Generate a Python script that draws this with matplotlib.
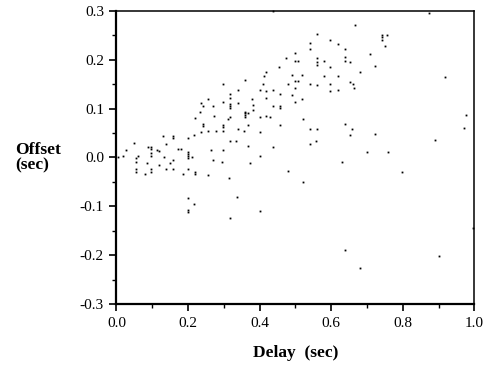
import matplotlib
matplotlib.use("Agg")
import matplotlib.pyplot as plt
from matplotlib.ticker import MultipleLocator, FormatStrFormatter

# delay (sec) vs offset (sec)
delay = [
    0.005, 0.018, 0.027, 0.048, 0.055, 0.055, 0.055, 0.055, 0.060, 0.080,
    0.084, 0.088, 0.096, 0.096, 0.096, 0.096, 0.096, 0.096, 0.113, 0.118,
    0.118, 0.129, 0.134, 0.138, 0.138, 0.149, 0.158, 0.158, 0.158, 0.158,
    0.171, 0.179, 0.187, 0.200, 0.200, 0.200, 0.200, 0.200, 0.200, 0.199,
    0.199, 0.199, 0.212, 0.216, 0.216, 0.219, 0.219, 0.219, 0.232, 0.236,
    0.236, 0.241, 0.241, 0.241, 0.257, 0.257, 0.257, 0.265, 0.270, 0.270,
    0.273, 0.278, 0.294, 0.297, 0.297, 0.297, 0.297, 0.297, 0.297, 0.311,
    0.313, 0.318, 0.318, 0.318, 0.318, 0.318, 0.318, 0.318, 0.318, 0.335,
    0.337, 0.339, 0.339, 0.339, 0.355, 0.359, 0.359, 0.359, 0.359, 0.359,
    0.367, 0.367, 0.367, 0.372, 0.379, 0.380, 0.380, 0.401, 0.401, 0.401,
    0.401, 0.402, 0.409, 0.413, 0.417, 0.417, 0.417, 0.417, 0.429, 0.437,
    0.437, 0.437, 0.454, 0.458, 0.458, 0.458, 0.458, 0.474, 0.478, 0.479,
    0.490, 0.490, 0.499, 0.499, 0.507, 0.499, 0.507, 0.499, 0.499, 0.519,
    0.519, 0.520, 0.520, 0.540, 0.540, 0.540, 0.540, 0.540, 0.557, 0.560,
    0.560, 0.560, 0.560, 0.560, 0.560, 0.581, 0.581, 0.597, 0.597, 0.597,
    0.597, 0.618, 0.618, 0.618, 0.630, 0.637, 0.637, 0.637, 0.638, 0.638,
    0.651, 0.652, 0.660, 0.663, 0.659, 0.652, 0.667, 0.679, 0.679, 0.699,
    0.708, 0.721, 0.721, 0.741, 0.741, 0.741, 0.757, 0.749, 0.758, 0.798,
    0.873, 0.890, 0.901, 0.918, 0.971, 0.975, 0.997, 0.437,
]
offset = [
    0.001, 0.004, 0.015, 0.030, -0.002, -0.009, -0.023, -0.030, 0.004, -0.033,
    -0.011, 0.022, 0.022, 0.018, 0.009, 0.004, -0.023, -0.030, 0.016, 0.013,
    -0.015, 0.043, 0.001, 0.028, -0.023, -0.011, 0.045, 0.040, -0.005, -0.023,
    0.018, 0.018, -0.033, 0.040, 0.012, 0.008, 0.004, -0.001, -0.023, -0.082,
    -0.108, -0.112, 0.001, 0.046, -0.095, 0.081, -0.030, -0.033, 0.093, 0.112,
    0.052, 0.106, 0.069, 0.064, 0.119, 0.055, -0.036, 0.016, 0.106, -0.005,
    0.084, 0.055, -0.009, 0.151, 0.114, 0.067, 0.063, 0.055, 0.016, 0.079,
    -0.041, 0.130, 0.121, 0.109, 0.106, 0.102, 0.083, 0.034, -0.123, 0.034,
    -0.080, 0.139, 0.112, 0.058, 0.055, 0.159, 0.094, 0.091, 0.087, 0.082,
    0.091, 0.067, 0.024, -0.012, 0.119, 0.108, 0.097, 0.139, 0.082, 0.052,
    0.004, -0.110, 0.151, 0.166, 0.175, 0.136, 0.121, 0.084, 0.082, 0.139,
    0.106, 0.022, 0.185, 0.130, 0.106, 0.102, 0.067, 0.203, 0.151, -0.027,
    0.169, 0.127, 0.214, 0.198, 0.198, 0.157, 0.157, 0.142, 0.114, 0.169,
    0.119, 0.079, -0.051, 0.235, 0.223, 0.151, 0.058, 0.028, 0.034, 0.253,
    0.203, 0.196, 0.190, 0.148, 0.058, 0.198, 0.166, 0.241, 0.185, 0.151,
    0.136, 0.232, 0.166, 0.139, -0.009, 0.223, 0.205, 0.198, 0.069, -0.189,
    0.195, 0.154, 0.151, 0.142, 0.058, 0.046, 0.271, 0.175, -0.227, 0.012,
    0.211, 0.187, 0.049, 0.250, 0.246, 0.241, 0.250, 0.229, 0.012, -0.030,
    0.295, 0.036, -0.201, 0.164, 0.060, 0.087, -0.144, 0.300,
]

plt.rcParams['font.family'] = ['Liberation Serif', 'DejaVu Serif']

fig = plt.figure(figsize=(4.86, 3.65), dpi=100)
ax = fig.add_axes([0.2397, 0.167, 0.7366, 0.803])

ax.plot(delay, offset, linestyle='none', marker='s', markersize=1.3,
        markeredgewidth=0, color='black', clip_on=False)

ax.set_xlim(0.0, 1.0)
ax.set_ylim(-0.3, 0.3)
ax.xaxis.set_major_locator(MultipleLocator(0.2))
ax.xaxis.set_minor_locator(MultipleLocator(0.1))
ax.yaxis.set_major_locator(MultipleLocator(0.1))
ax.yaxis.set_minor_locator(MultipleLocator(0.05))
ax.xaxis.set_major_formatter(FormatStrFormatter('%.1f'))
ax.yaxis.set_major_formatter(FormatStrFormatter('%.1f'))

ax.tick_params(which='major', direction='out', length=5, width=1.2,
               labelsize=11, pad=4)
ax.tick_params(which='minor', direction='out', length=3, width=1.0)

ax.spines['left'].set_linewidth(1.6)
ax.spines['bottom'].set_linewidth(1.6)
ax.spines['top'].set_linewidth(1.1)
ax.spines['right'].set_linewidth(1.1)

ax.set_xlabel('Delay  (sec)', fontsize=12.5, fontweight='bold', labelpad=11)
fig.text(0.031, 0.568, 'Offset\n(sec)', fontsize=12.5, fontweight='bold',
         ha='left', va='center', linespacing=0.95)

fig.savefig('out.png', dpi=100)
